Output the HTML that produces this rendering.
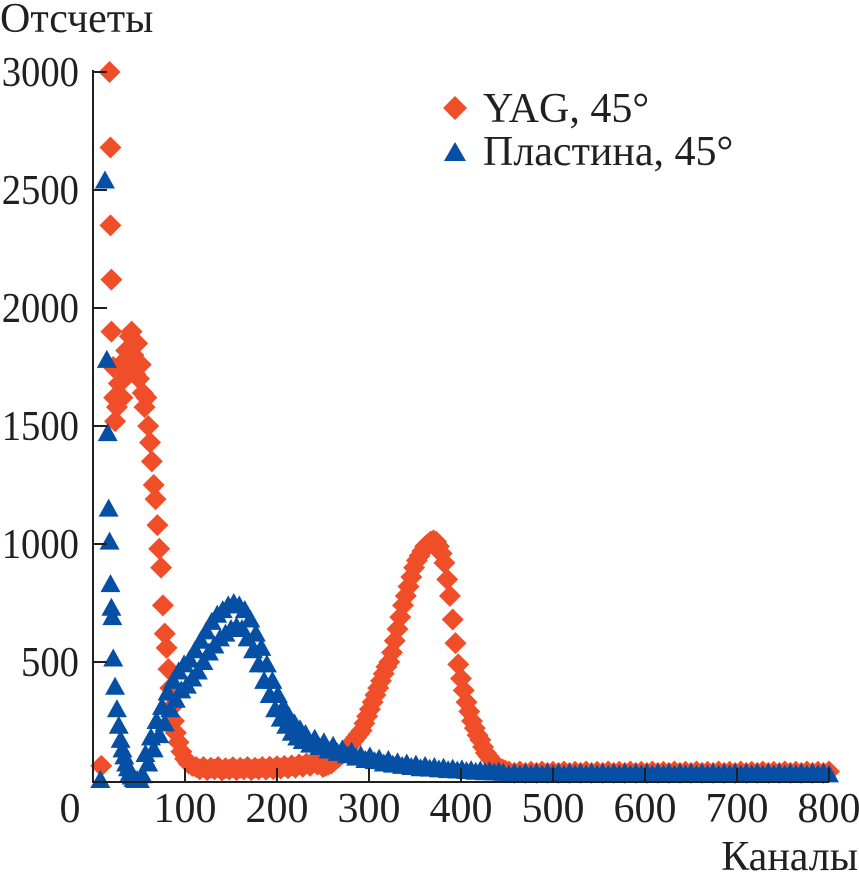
<!DOCTYPE html>
<html><head><meta charset="utf-8"><style>
html,body{margin:0;padding:0;background:#fff;}
svg{display:block;font-family:"Liberation Serif",serif;}
</style></head><body>
<svg id="chart" width="859" height="881" viewBox="0 0 859 881">
<g id="marks"></g>
<g id="axes"></g>
<text x="0" y="32" font-size="42" fill="#231f20">Отсчеты</text>
<text x="858" y="870" font-size="42" fill="#231f20" text-anchor="end">Каналы</text>
<g>
<polygon points="455,96 467,108 455,120 443,108" fill="#f04e29"/>
<text x="483" y="122" font-size="42" fill="#231f20">YAG, 45°</text>
<polygon points="455,142 466,161 444,161" fill="#0550a5"/>
<text x="483" y="165" font-size="42" fill="#231f20">Пластина, 45°</text>
</g>
</svg>
<script>
const xTicks=[0,100,200,300,400,500,600,700,800];
const yTicks=[500,1000,1500,2000,2500,3000];
const yagCh=[9,18,19,19,20,20,22,23,24,26,28,30,32,34,36,38,40,42,44,46,48,50,52,54,56,58,60,62,64,66,68,70,72,74,76,78,80,82,84,86,88,90,93,96,100,104,108,112,
116,120,124,128,132,136,140,144,148,152,156,160,164,168,172,176,180,184,188,192,196,200,204,208,212,216,220,224,228,232,236,240,244,248,
250,253,256,259,262,265,268,271,274,277,280,283,286,289,292,295,298,301,304,307,310,313,316,319,322,325,328,331,334,337,340,343,346,349,352,355,358,361,364,367,370,373,376,379,382,385,388,391,394,397,400,403,406,409,412,415,418,421,424,427,430,433,436,439,442,445,448,
452,458,464,470,476,482,488,494,500,506,512,518,524,530,536,542,548,554,560,566,572,578,584,590,596,602,608,614,620,626,632,638,644,650,656,662,668,674,680,686,692,698,704,710,716,722,728,734,740,746,752,758,764,770,776,782,788,794,800];
const yagVal=[60,3000,2680,2350,2120,1900,1750,1620,1520,1580,1680,1760,1620,1700,1820,1760,1880,1900,1800,1720,1850,1700,1760,1640,1580,1620,1500,1430,1350,1250,1190,1080,980,900,740,620,560,470,390,310,250,200,160,120,90,70,60,55,
45,55,42,52,45,55,40,50,44,54,42,52,45,55,42,52,45,55,44,56,46,58,48,60,50,62,52,66,56,70,60,75,65,80,
55,60,65,70,80,90,100,110,125,135,150,165,180,195,210,240,270,300,330,360,390,420,450,480,500,540,590,640,690,740,780,820,860,900,930,950,970,990,1000,1010,1015,1010,990,960,920,850,780,680,580,490,430,380,330,290,250,220,190,170,140,115,100,85,70,55,50,45,40,
36,30,36,30,35,30,36,30,35,30,36,30,35,30,36,30,35,30,36,30,35,30,36,30,35,30,36,30,35,30,36,30,35,30,36,30,35,30,36,30,35,30,36,30,35,30,36,30,35,30,36,30,35,30,36,30,35,30,36];
const plCh=[8,13,15,16,17,18,19,20,21,22,24,26,28,30,32,34,36,38,40,42,44,46,48,
51,54,57,60,63,66,69,72,75,78,81,84,87,90,93,96,99,102,105,108,111,114,117,120,123,126,129,132,135,138,141,144,147,150,153,156,159,162,165,168,171,174,177,180,183,186,189,192,195,198,201,204,207,210,213,216,219,222,225,228,231,
236,241,246,251,256,261,266,271,276,281,286,291,296,301,306,311,316,321,326,331,336,341,346,351,356,361,366,371,376,381,386,391,396,401,406,411,416,421,426,431,436,441,446,
452,458,464,470,476,482,488,494,500,506,512,518,524,530,536,542,548,554,560,566,572,578,584,590,596,602,608,614,620,626,632,638,644,650,656,662,668,674,680,686,692,698,704,710,716,722,728,734,740,746,752,758,764,770,776,782,788,794,800];
const plVal=[0,2540,1780,1470,1150,1010,830,730,690,515,395,300,230,170,130,100,70,50,30,15,5,0,0,
0,20,110,70,180,130,250,190,310,240,370,300,420,340,460,380,490,400,510,430,550,460,590,500,630,540,670,570,700,600,720,620,740,640,750,650,740,640,720,600,680,550,620,490,560,420,490,360,420,300,360,260,310,230,270,200,240,180,215,165,195,
150,175,140,160,125,145,115,130,105,120,95,105,85,100,80,90,70,85,65,75,60,70,55,65,50,60,48,55,45,52,42,48,40,45,38,42,35,40,33,38,32,36,30,
24,30,24,30,25,30,24,30,25,30,24,30,25,30,24,30,25,30,24,30,25,30,24,30,25,30,24,30,25,30,24,30,25,30,24,30,25,30,24,30,25,30,24,30,25,30,24,30,25,30,24,30,25,30,24,30,25,30,24];
const NS='http://www.w3.org/2000/svg';
const X0=93,XS=0.92,Y0=780,YS=0.236;
const xs=v=>X0+v*XS, ys=v=>Y0-v*YS;
const marks=document.getElementById('marks'), axes=document.getElementById('axes');
function mk(t,a,p){const e=document.createElementNS(NS,t);for(const k in a)e.setAttribute(k,a[k]);p.appendChild(e);return e;}
yagCh.forEach((c,i)=>{const x=xs(c),y=ys(yagVal[i]);
 const e=mk('polygon',{points:`${x},${y-11} ${x+11},${y} ${x},${y+11} ${x-11},${y}`,fill:'#f04e29'},marks);
 
 });
plCh.forEach((c,i)=>{const x=xs(c),y=ys(plVal[i]);
 const e=mk('polygon',{points:`${x},${y-10} ${x+10},${y+8} ${x-10},${y+8}`,fill:'#0550a5'},marks);
 
 });
const ax=mk('path',{d:`M${X0},70 V${Y0+2} H${xs(800)}`,stroke:'#231f20','stroke-width':2,fill:'none'},axes);


xTicks.forEach(t=>{const x=xs(t);
 if(t>0){const l=mk('line',{x1:x,x2:x,y1:Y0+2,y2:Y0-12,stroke:'#231f20','stroke-width':2},axes);
 
 }
 const tx=mk('text',{x:t===0?70:x,y:822,'font-size':42,'text-anchor':'middle',fill:'#231f20'},axes);
 tx.textContent=t;
 
 });
yTicks.forEach(t=>{const y=ys(t);
 const l=mk('line',{x1:X0,x2:X0+14,y1:y,y2:y,stroke:'#231f20','stroke-width':2},axes);
 
 
 const tx=mk('text',{x:0,y:0,'font-size':42,'text-anchor':'end',fill:'#231f20',transform:`translate(79,${y+14}) scale(0.92,1)`},axes);
 tx.textContent=t;
 
 });
</script>
</body></html>
